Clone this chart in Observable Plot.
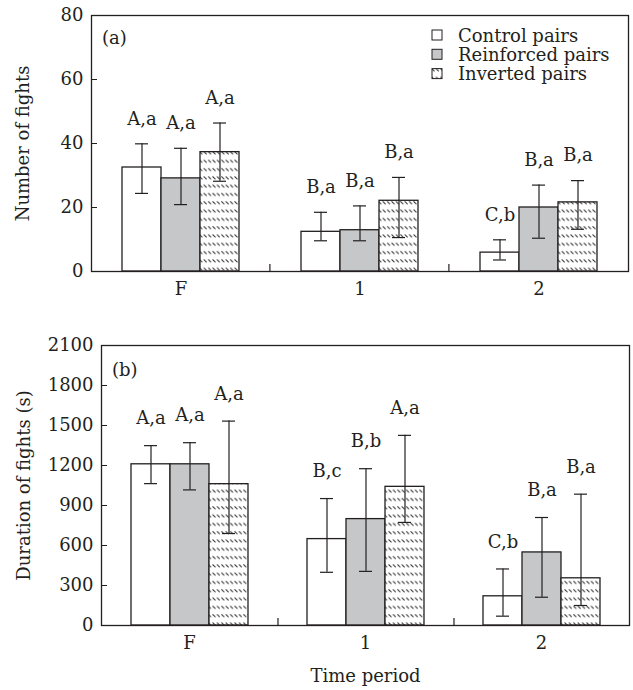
<!DOCTYPE html>
<html><head><meta charset="utf-8">
<script src="https://cdn.jsdelivr.net/npm/d3@7"></script>
<script src="https://cdn.jsdelivr.net/npm/@observablehq/plot@0.6"></script>
<style>
body{margin:0;background:#fff;}
#chart{width:633px;}
#chart svg{display:block;}
</style></head><body><div id="chart"></div>
<script>
const periods = ["F", "1", "2"];
const groups = ["Control pairs", "Reinforced pairs", "Inverted pairs"];

// Panel (a) — number of fights (period F, 1, 2; each Control, Reinforced, Inverted)
const fightsMean = [32.5, 29.1, 37.3, 12.4, 12.9, 22.1, 5.9, 20.0, 21.6];
const fightsLow  = [24.4, 20.9, 28.2, 9.6, 9.6, 10.6, 3.6, 10.4, 13.2];
const fightsHigh = [39.9, 38.5, 46.4, 18.5, 20.5, 29.4, 9.9, 27.0, 28.4];
const fightsLetters = ["A,a", "A,a", "A,a", "B,a", "B,a", "B,a", "C,b", "B,a", "B,a"];
const fightsTicks = [0, 20, 40, 60, 80];

// Panel (b) — duration of fights (s)
const durationMean = [1209, 1209, 1060, 648, 798, 1040, 219, 548, 354];
const durationLow  = [1064, 1017, 690, 399, 406, 773, 70, 212, 150];
const durationHigh = [1349, 1371, 1533, 952, 1176, 1426, 424, 810, 985];
const durationLetters = ["A,a", "A,a", "A,a", "B,c", "B,b", "A,a", "C,b", "B,a", "B,a"];
const durationTicks = [0, 300, 600, 900, 1200, 1500, 1800, 2100];

function rows(mean, low, high, letters) {
  return mean.map((v, i) => ({
    period: periods[Math.floor(i / groups.length)],
    group: groups[i % groups.length],
    value: v, low: low[i], high: high[i], letter: letters[i]
  }));
}

const FONT = "'DejaVu Serif', 'Liberation Serif', serif";
const FS = 18;
const INK = "#231f20";
const GRAY = "#c6c7c9";

function addHatch(svg, id) {
  const defs = d3.select(svg).insert("defs", ":first-child");
  const p = defs.append("pattern").attr("id", id)
    .attr("patternUnits", "userSpaceOnUse").attr("width", 4.4).attr("height", 8.3);
  p.append("rect").attr("width", 4.4).attr("height", 8.3).attr("fill", "white");
  p.append("path").attr("d", "M0.4,2.2 L3.2,5.0").attr("stroke", "#2a2a2a").attr("stroke-width", 1.05);
}

function panel(o) {
  const width = 633, marginRight = 4;
  const bandW = (width - o.marginLeft - marginRight) / periods.length;
  const step = bandW / 4.5;
  const svg = Plot.plot({
    width, height: o.height,
    marginTop: o.marginTop, marginBottom: o.marginBottom,
    marginLeft: o.marginLeft, marginRight,
    style: {fontFamily: FONT, fontSize: FS + "px", color: INK, background: "white"},
    fx: {domain: periods, padding: 0, label: null},
    x: {domain: groups, paddingInner: 0, paddingOuter: 0.75, axis: null},
    y: {domain: [0, o.yMax], label: null},
    color: {domain: groups, range: ["white", GRAY, `url(#${o.hatchId})`]},
    marks: [
      Plot.barY(o.data, {fx: "period", x: "group", y: "value", fill: "group", stroke: INK, strokeWidth: 1.3}),
      Plot.ruleX(o.data, {fx: "period", x: "group", y1: "low", y2: "high", stroke: INK, strokeWidth: 1.2}),
      Plot.tickY(o.data, {fx: "period", x: "group", y: "high", inset: 13, stroke: INK, strokeWidth: 1.2}),
      Plot.tickY(o.data, {fx: "period", x: "group", y: "low", inset: 13, stroke: INK, strokeWidth: 1.2}),
      Plot.text(o.data, {fx: "period", x: "group", y: "high", text: "letter", dy: o.labelDy, fill: INK}),
      Plot.ruleX(periods.slice(0, -1), {fx: d => d, x: () => groups[groups.length - 1], y1: () => 0, y2: () => 0,
        dx: 1.25 * step, insetBottom: 7, stroke: INK, strokeWidth: 1.2}),
      Plot.axisY({ticks: o.ticks, tickFormat: d3.format("d"), tickSize: -6, tickPadding: 14, stroke: INK, fill: INK,
        label: o.yLabel, labelAnchor: "center", labelArrow: "none", labelOffset: o.yLabelOffset}),
      Plot.axisFx({anchor: "bottom", tickSize: 0, tickPadding: 11, fill: INK,
        label: o.xLabel, labelAnchor: "center", labelArrow: "none", labelOffset: o.xLabelOffset}),
      Plot.frame({facet: "super", stroke: INK, strokeWidth: 1.3})
    ]
  });
  addHatch(svg, o.hatchId);
  d3.select(svg).append("text").attr("x", o.tagX).attr("y", o.tagY)
    .attr("dominant-baseline", "central").attr("text-anchor", "start")
    .attr("font-family", FONT).attr("font-size", FS).attr("fill", INK).text(o.tag);
  return svg;
}

const chartA = panel({
  data: rows(fightsMean, fightsLow, fightsHigh, fightsLetters),
  yMax: 80, ticks: fightsTicks, yLabel: "Number of fights", yLabelOffset: 75,
  height: 305, marginTop: 15, marginBottom: 34, marginLeft: 90,
  xLabel: null, xLabelOffset: 0, hatchId: "hatchA", labelDy: -25,
  tag: "(a)", tagX: 102, tagY: 37
});

// legend inside panel (a)
{
  const s = d3.select(chartA);
  const fills = ["white", GRAY, "url(#hatchA)"];
  const g = s.append("g");
  groups.forEach((name, i) => {
    const cy = 35 + i * 19.3;
    g.append("rect").attr("x", 432).attr("y", cy - 5).attr("width", 10).attr("height", 10)
      .attr("fill", fills[i]).attr("stroke", INK).attr("stroke-width", 1);
    g.append("text").attr("x", 458).attr("y", cy).attr("dominant-baseline", "central")
      .attr("text-anchor", "start")
      .attr("font-family", FONT).attr("font-size", FS).attr("fill", INK).text(name);
  });
}

const chartB = panel({
  data: rows(durationMean, durationLow, durationHigh, durationLetters),
  yMax: 2100, ticks: durationTicks, yLabel: "Duration of fights (s)", yLabelOffset: 84,
  height: 385, marginTop: 40, marginBottom: 65, marginLeft: 100,
  xLabel: "Time period", xLabelOffset: 56, hatchId: "hatchB", labelDy: -27,
  tag: "(b)", tagX: 112, tagY: 64
});

document.getElementById("chart").append(chartA, chartB);
</script>
</body></html>
